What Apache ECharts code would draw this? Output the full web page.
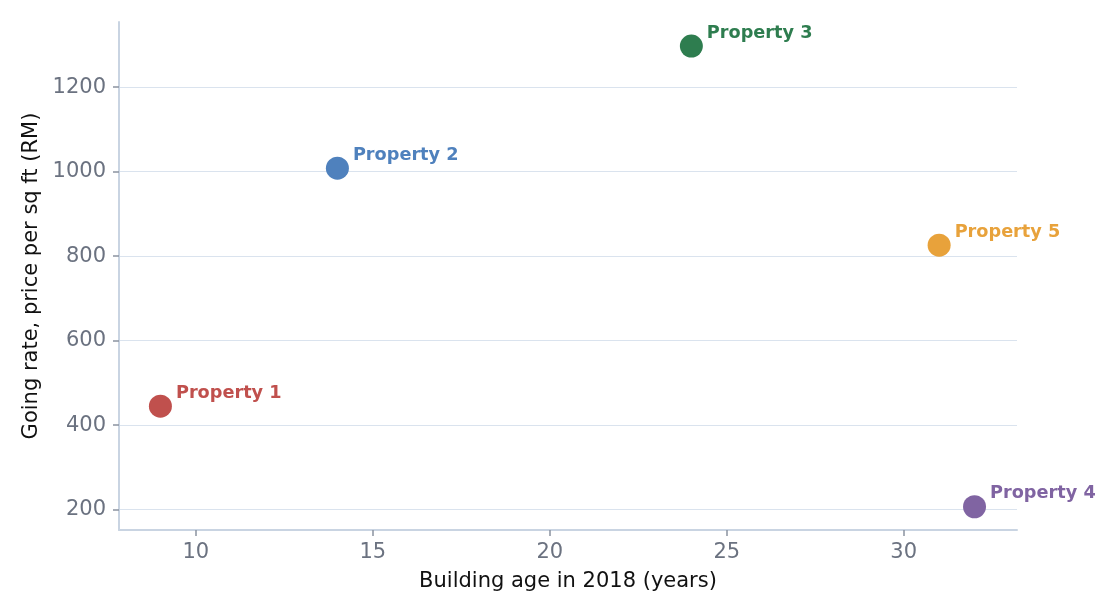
<!DOCTYPE html>
<html><head><meta charset="utf-8">
<script src="https://cdn.jsdelivr.net/npm/echarts@6/dist/echarts.min.js"></script>
<style>html,body{margin:0;padding:0;background:#fff}#c{width:1120px;height:616px}</style>
</head><body><div id="c"></div>
<script>
const names = ['Property 1','Property 2','Property 3','Property 4','Property 5'];
const ages = [9, 14, 24, 32, 31];
const rates = [445, 1008, 1297, 207, 826];
const colors = ['#c0504d','#4f81bd','#2e7d4f','#8064a2','#e8a23b'];
const xTicks = [10, 15, 20, 25, 30];
const yTicks = [200, 400, 600, 800, 1000, 1200];

const font = 'DejaVu Sans';
const chart = echarts.init(document.getElementById('c'));
chart.setOption({
  animation: false,
  grid: {left: 119, right: 103, top: 22, bottom: 86, containLabel: false},
  xAxis: {
    type: 'value', min: 7.83, max: 33.2,
    name: 'Building age in 2018 (years)', nameLocation: 'middle', nameGap: 41,
    nameTextStyle: {fontFamily: font, fontSize: 21, color: '#111'},
    axisLine: {show: true, lineStyle: {color: '#c9d4e2', width: 2}},
    axisTick: {show: true, length: 6, customValues: xTicks, lineStyle: {color: '#8a93a0', width: 1.5}},
    axisLabel: {customValues: xTicks, margin: 12, fontFamily: font, fontSize: 21, color: '#6b7280',
      formatter: v => String(v)},
    splitLine: {show: false}
  },
  yAxis: {
    type: 'value', min: 152, max: 1354,
    name: 'Going rate, price per sq ft (RM)', nameLocation: 'middle', nameGap: 71,
    nameTextStyle: {fontFamily: font, fontSize: 21, color: '#111'},
    axisLine: {show: true, lineStyle: {color: '#c9d4e2', width: 2}},
    axisTick: {show: true, length: 6, customValues: yTicks, lineStyle: {color: '#8a93a0', width: 1.5}},
    axisLabel: {customValues: yTicks, margin: 13, fontFamily: font, fontSize: 21, color: '#6b7280',
      formatter: v => String(v)},
    splitLine: {show: true, lineStyle: {color: '#dae3ee', width: 1}}
  },
  series: [{
    type: 'scatter',
    symbolSize: 23,
    data: names.map((n, i) => ({
      name: n, value: [ages[i], rates[i]],
      itemStyle: {color: colors[i], opacity: 1},
      label: {color: colors[i]}
    })),
    label: {
      show: true, position: 'right', distance: 4, offset: [0, -13],
      formatter: p => p.name,
      fontFamily: font, fontSize: 17.7, fontWeight: 'bold'
    }
  }]
});
</script></body></html>
